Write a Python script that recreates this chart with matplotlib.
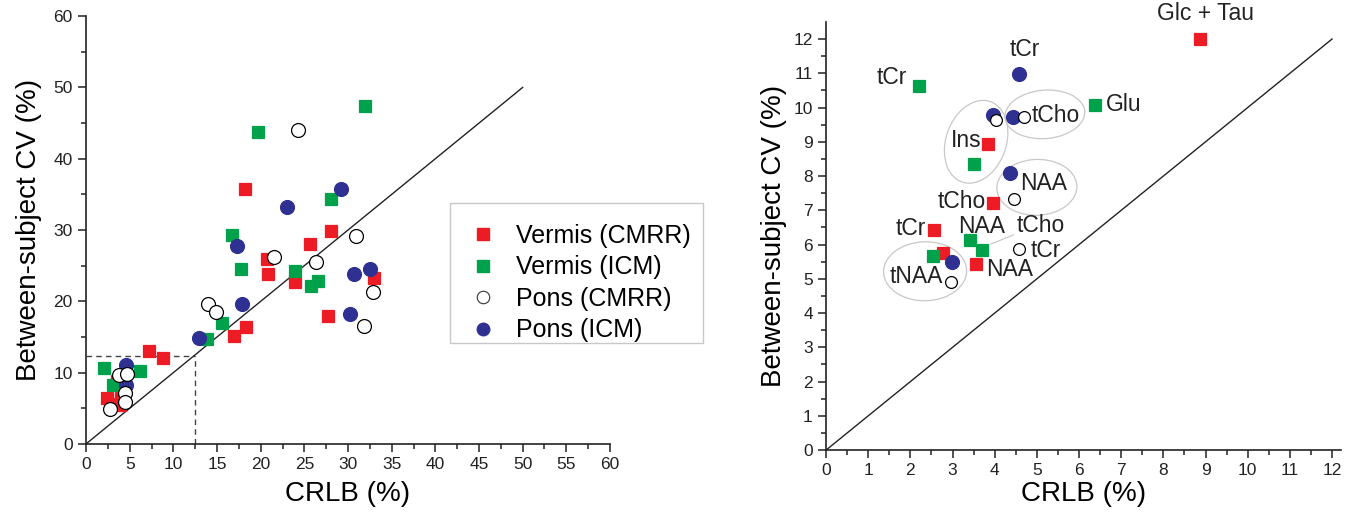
import numpy as np
import matplotlib
matplotlib.use("Agg")
import matplotlib.pyplot as plt
from matplotlib.patches import Ellipse, Rectangle
from matplotlib.lines import Line2D

plt.rcParams['font.family'] = ['Liberation Sans', 'DejaVu Sans']

RED = '#ED1C24'
GREEN = '#00A14B'
BLUE = '#2E3192'

# 左图：所有代谢物
vc_x = [18.2, 28.0, 25.6, 20.7, 20.8, 23.9, 32.95, 27.7, 18.3, 16.9, 7.2, 8.8, 2.4, 3.6, 4.0, 3.2, 3.9]
vc_y = [35.8, 29.9, 28.0, 26.0, 23.8, 22.7, 23.2, 18.0, 16.4, 15.1, 13.1, 12.1, 6.5, 8.8, 7.1, 5.6, 5.4]
vi_x = [31.9, 19.7, 28.0, 16.7, 17.7, 23.9, 26.6, 25.8, 15.6, 13.9, 2.0, 6.2, 3.1]
vi_y = [47.4, 43.7, 34.3, 29.3, 24.5, 24.3, 22.9, 22.1, 17.0, 14.7, 10.6, 10.2, 8.3]
pc_x = [24.3, 30.9, 21.5, 26.3, 32.9, 14.0, 14.9, 31.8, 3.8, 4.65, 4.45, 4.45, 2.75]
pc_y = [44.0, 29.1, 26.2, 25.5, 21.3, 19.6, 18.5, 16.5, 9.7, 9.8, 7.2, 5.9, 4.9]
pi_x = [29.2, 23.0, 17.3, 30.7, 32.5, 17.9, 30.2, 12.9, 4.6, 4.6]
pi_y = [35.8, 33.2, 27.8, 23.8, 24.5, 19.6, 18.2, 14.8, 11.1, 8.3]
cut_x = 12.5
cut_y = 12.3

# 右图：主要代谢物
r_vc_x = [8.88, 3.85, 3.97, 2.57, 2.77, 3.56]
r_vc_y = [12.0, 8.93, 7.20, 6.42, 5.76, 5.43]
r_vi_x = [2.2, 6.38, 3.51, 3.41, 3.69, 2.54]
r_vi_y = [10.63, 10.07, 8.34, 6.13, 5.84, 5.66]
r_pc_x = [4.02, 4.70, 4.46, 4.58, 2.96]
r_pc_y = [9.65, 9.73, 7.32, 5.86, 4.91]
r_pi_x = [4.58, 3.97, 4.44, 4.36, 2.98]
r_pi_y = [10.97, 9.78, 9.73, 8.10, 5.48]

names = ['Glc + Tau', 'tCr', 'tCr', 'Glu', 'tCho', 'Ins', 'NAA', 'tCho',
         'tCr', 'NAA', 'tCho', 'tCr', 'NAA', 'tNAA']
name_x = [9.0, 4.71, 1.55, 7.06, 5.44, 3.32, 5.15, 3.22, 2.02, 3.70, 5.09, 5.22, 4.35, 2.14]
name_y = [12.75, 11.68, 10.88, 10.10, 9.78, 9.03, 7.77, 7.25, 6.47, 6.52, 6.55, 5.84, 5.28, 5.06]

# 椭圆分组 (中心x, 中心y, 宽, 高, 角度)
groups = [(3.56, 9.0, 1.45, 2.45, -12),
          (5.19, 9.80, 1.90, 1.41, 8),
          (5.00, 7.67, 1.90, 1.63, 5),
          (2.35, 5.22, 1.97, 1.72, 3)]

fig = plt.figure(figsize=(13.68, 5.21), dpi=100)
ax1 = fig.add_axes([0.0629, 0.148, 0.3830, 0.821])
ax2 = fig.add_axes([0.6038, 0.136, 0.3761, 0.822])

ms_sq = 9
ms_ci = 10


def style(ax):
    for s in ['top', 'right']:
        ax.spines[s].set_visible(False)
    for s in ['left', 'bottom']:
        ax.spines[s].set_linewidth(1.2)
        ax.spines[s].set_color('#222222')
    ax.tick_params(which='major', direction='out', length=6, width=1.1, labelsize=12.5, colors='#222222')
    ax.tick_params(which='minor', direction='out', length=3.5, width=1.1, colors='#222222')


def draw(ax, sx, sy, mk, fc, ec, size):
    ax.plot(sx, sy, ls='none', marker=mk, ms=size, mfc=fc, mec=ec, mew=0.9, clip_on=False, zorder=3)


# 左图
draw(ax1, vc_x, vc_y, 's', RED, RED, ms_sq)
draw(ax1, vi_x, vi_y, 's', GREEN, GREEN, ms_sq)
draw(ax1, pi_x, pi_y, 'o', BLUE, BLUE, ms_ci)
draw(ax1, pc_x, pc_y, 'o', 'white', 'black', ms_ci)
ax1.plot([0, 50], [0, 50], color='#222222', lw=1.0, zorder=2)
ax1.plot([0, cut_x], [cut_y, cut_y], color='#444444', lw=1.0, ls=(0, (4, 3)), zorder=1)
ax1.plot([cut_x, cut_x], [0, cut_y], color='#444444', lw=1.0, ls=(0, (4, 3)), zorder=1)
ax1.set_xlim(0, 60)
ax1.set_ylim(0, 60)
ax1.set_xticks(np.arange(0, 61, 5))
ax1.set_xticks(np.arange(2.5, 60, 5), minor=True)
ax1.set_yticks(np.arange(0, 61, 10))
ax1.set_yticks(np.arange(5, 60, 10), minor=True)
style(ax1)
ax1.set_xlabel('CRLB (%)', fontsize=20)
ax1.set_ylabel('Between-subject CV (%)', fontsize=20)
ax1.xaxis.set_label_coords(0.5, -0.086)
ax1.yaxis.set_label_coords(-0.084, 0.5)

# 图例
handles = [Line2D([], [], ls='none', marker='s', ms=9, mfc=RED, mec=RED),
           Line2D([], [], ls='none', marker='s', ms=9, mfc=GREEN, mec=GREEN),
           Line2D([], [], ls='none', marker='o', ms=9, mfc='white', mec='#333333', mew=0.8),
           Line2D([], [], ls='none', marker='o', ms=9, mfc=BLUE, mec=BLUE)]
labels = ['Vermis (CMRR)', 'Vermis (ICM)', 'Pons (CMRR)', 'Pons (ICM)']
fig.legend(handles, labels, loc='upper left', bbox_to_anchor=(470.8 / 1368, 1 - 224 / 521),
           frameon=False, fontsize=18, borderpad=0, handlelength=1.0, handletextpad=0.8,
           labelspacing=0.3, borderaxespad=0)
fig.patches.append(Rectangle((450 / 1368, 1 - 343 / 521), 253 / 1368, 140.3 / 521,
                             transform=fig.transFigure, fill=False, ec='#c8c8c8', lw=1.0))

# 右图
draw(ax2, r_vc_x, r_vc_y, 's', RED, RED, ms_sq)
draw(ax2, r_vi_x, r_vi_y, 's', GREEN, GREEN, ms_sq)
draw(ax2, r_pi_x, r_pi_y, 'o', BLUE, BLUE, ms_ci)
draw(ax2, r_pc_x, r_pc_y, 'o', 'white', 'black', 8.5)
ax2.plot([0, 12], [0, 12], color='#222222', lw=1.0, zorder=2)
for cx, cy, w, h, a in groups:
    ax2.add_patch(Ellipse((cx, cy), w, h, angle=a, fill=False, ec='#c8c8c8', lw=0.9, zorder=1))
ax2.plot([4.44, 3.90], [6.28, 6.01], color='#c8c8c8', lw=0.9, zorder=1)
for t, tx, ty in zip(names, name_x, name_y):
    ax2.text(tx, ty, t, fontsize=16.5, ha='center', va='center', color='#222222', clip_on=False, zorder=4)
ax2.set_xlim(0, 12.2)
ax2.set_ylim(0, 12.5)
ax2.set_xticks(np.arange(0, 13, 1))
ax2.set_xticks(np.arange(0.5, 12.2, 1), minor=True)
ax2.set_yticks(np.arange(0, 13, 1))
ax2.set_yticks(np.arange(0.5, 12.5, 1), minor=True)
style(ax2)
ax2.set_xlabel('CRLB (%)', fontsize=20)
ax2.set_ylabel('Between-subject CV (%)', fontsize=20)
ax2.xaxis.set_label_coords(0.5, -0.072)
ax2.yaxis.set_label_coords(-0.076, 0.5)

fig.savefig('out.png', dpi=100)
